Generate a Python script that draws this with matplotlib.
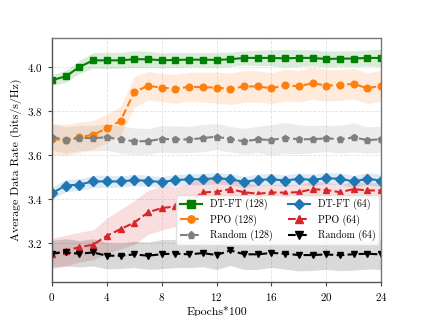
import numpy as np
import matplotlib
matplotlib.use('Agg')
import matplotlib.pyplot as plt

plt.rcParams['font.family'] = 'cmr10'
plt.rcParams['mathtext.fontset'] = 'cm'
plt.rcParams['axes.unicode_minus'] = False
plt.rcParams['axes.formatter.use_mathtext'] = True

epochs = list(range(25))

dtft_128 = [3.940, 3.957, 4.000, 4.030, 4.030, 4.030, 4.035, 4.035, 4.030, 4.032, 4.033, 4.033, 4.032,
            4.035, 4.041, 4.041, 4.041, 4.039, 4.041, 4.041, 4.036, 4.038, 4.038, 4.041, 4.041]
dtft_128_std = [0.025, 0.027, 0.03, 0.035, 0.037, 0.036, 0.038, 0.036, 0.034, 0.034, 0.033, 0.033, 0.034,
                0.033, 0.032, 0.035, 0.036, 0.04, 0.038, 0.036, 0.036, 0.035, 0.036, 0.036, 0.04]

ppo_128 = [3.671, 3.668, 3.680, 3.692, 3.720, 3.755, 3.886, 3.914, 3.906, 3.900, 3.910, 3.908, 3.906,
           3.900, 3.911, 3.911, 3.903, 3.917, 3.912, 3.926, 3.915, 3.918, 3.923, 3.903, 3.915]
ppo_128_std = [0.07, 0.07, 0.07, 0.065, 0.065, 0.065, 0.07, 0.065, 0.065, 0.066, 0.066, 0.068, 0.07,
               0.072, 0.072, 0.072, 0.07, 0.072, 0.072, 0.074, 0.072, 0.07, 0.07, 0.07, 0.07]

rand_128 = [3.682, 3.667, 3.677, 3.676, 3.680, 3.670, 3.662, 3.662, 3.673, 3.670, 3.670, 3.676, 3.683,
            3.671, 3.662, 3.670, 3.668, 3.677, 3.671, 3.671, 3.675, 3.671, 3.679, 3.667, 3.671]
rand_128_std = [0.06, 0.06, 0.058, 0.058, 0.06, 0.062, 0.06, 0.058, 0.06, 0.062, 0.06, 0.062, 0.06,
                0.058, 0.058, 0.06, 0.07, 0.07, 0.066, 0.062, 0.06, 0.064, 0.066, 0.06, 0.06]

dtft_64 = [3.426, 3.460, 3.465, 3.479, 3.479, 3.479, 3.485, 3.482, 3.476, 3.485, 3.489, 3.489, 3.494,
           3.489, 3.477, 3.486, 3.489, 3.483, 3.491, 3.486, 3.494, 3.491, 3.479, 3.491, 3.483]
dtft_64_std = [0.028, 0.028, 0.026, 0.028, 0.028, 0.026, 0.026, 0.025, 0.025, 0.025, 0.025, 0.026, 0.026,
               0.025, 0.025, 0.026, 0.026, 0.026, 0.026, 0.027, 0.026, 0.026, 0.027, 0.028, 0.028]

ppo_64 = [3.151, 3.164, 3.180, 3.191, 3.232, 3.262, 3.292, 3.338, 3.358, 3.365, 3.388, 3.429, 3.432,
          3.444, 3.430, 3.423, 3.429, 3.428, 3.430, 3.444, 3.440, 3.430, 3.444, 3.438, 3.438]
ppo_64_std = [0.07, 0.07, 0.068, 0.068, 0.08, 0.09, 0.1, 0.1, 0.1, 0.09, 0.08, 0.07, 0.06,
              0.05, 0.045, 0.04, 0.038, 0.036, 0.036, 0.035, 0.035, 0.035, 0.035, 0.035, 0.035]

rand_64 = [3.151, 3.156, 3.150, 3.156, 3.141, 3.141, 3.147, 3.141, 3.148, 3.151, 3.147, 3.153, 3.144,
           3.165, 3.148, 3.147, 3.154, 3.150, 3.144, 3.144, 3.147, 3.143, 3.148, 3.150, 3.147]
rand_64_std = [0.06, 0.062, 0.06, 0.062, 0.06, 0.058, 0.06, 0.062, 0.066, 0.064, 0.06, 0.062, 0.066,
               0.068, 0.07, 0.068, 0.066, 0.07, 0.072, 0.07, 0.068, 0.07, 0.072, 0.07, 0.068]

series = [
    ('DT-FT (128)', dtft_128, dtft_128_std, 'green', '-', 's'),
    ('PPO (128)', ppo_128, ppo_128_std, '#ff7f0e', '--', 'o'),
    ('Random (128)', rand_128, rand_128_std, 'gray', '--', 'p'),
    ('DT-FT (64)', dtft_64, dtft_64_std, '#1f77b4', '-', 'D'),
    ('PPO (64)', ppo_64, ppo_64_std, '#d62728', '--', '^'),
    ('Random (64)', rand_64, rand_64_std, 'black', '--', 'v'),
]

fig = plt.figure(figsize=(4.23, 3.16), dpi=100)
ax = fig.add_axes([0.123, 0.108, 0.778, 0.772])

x = np.array(epochs)
for name, y, s, c, ls, m in series:
    y = np.array(y)
    s = np.array(s)
    ax.fill_between(x, y - s, y + s, color=c, alpha=0.15, linewidth=0)
    ax.plot(x, y, color=c, linestyle=ls, marker=m, markersize=4.8, linewidth=1.5, label=name)

ax.set_xlim(0, 24)
ax.set_ylim(3.022, 4.132)
ax.set_xticks([0, 4, 8, 12, 16, 20, 24])
ax.set_yticks([3.2, 3.4, 3.6, 3.8, 4.0])
ax.tick_params(labelsize=8, length=3, color='#444444')
ax.grid(True, linestyle='--', color='#e2e2e2', linewidth=0.6)
ax.set_axisbelow(True)
for sp in ax.spines.values():
    sp.set_color('#777777')
    sp.set_linewidth(1.0)
ax.spines['left'].set_color('#555555')
ax.spines['bottom'].set_color('#555555')

ax.set_xlabel('Epochs*100', fontsize=8.5, labelpad=2)
ax.set_ylabel('Average Data Rate (bits/s/Hz)', fontsize=8.5)

ax.legend(ncol=2, loc='lower right', bbox_to_anchor=(0.995, 0.15), borderaxespad=0,
          fontsize=7.2, framealpha=0.9, edgecolor='#dddddd', handlelength=2.2,
          handletextpad=0.8, columnspacing=1.5, labelspacing=0.42, borderpad=0.4,
          markerscale=1.1)

fig.savefig('out.png', dpi=100)
